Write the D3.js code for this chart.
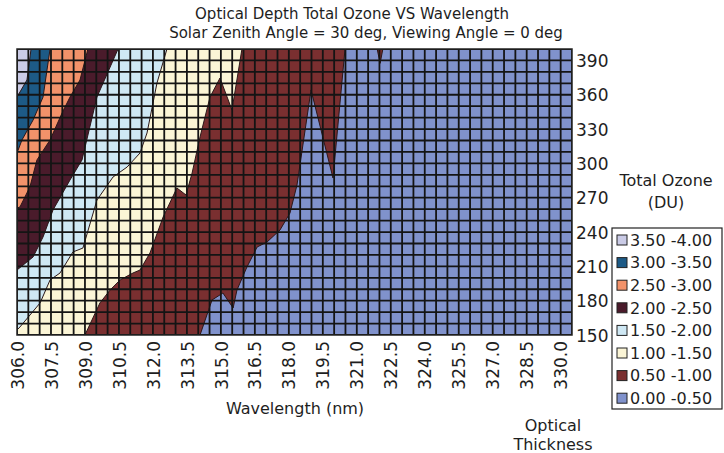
<!DOCTYPE html>
<html>
<head>
<meta charset="utf-8">
<script src="https://cdn.jsdelivr.net/npm/d3@7"></script>
<style>
  body { margin: 0; background: #fff; }
  text { font-family: "DejaVu Sans", "Noto Sans", sans-serif; fill: #1e1e1e; }
</style>
</head>
<body>
<svg id="chart" width="724" height="453"></svg>
<script>
// Axis tick labels
const xTickLabels = ["306.0","307.5","309.0","310.5","312.0","313.5","315.0","316.5","318.0",
                     "319.5","321.0","322.5","324.0","325.5","327.0","328.5","330.0"];
const yTickLabels = [150, 180, 210, 240, 270, 300, 330, 360, 390];

// Optical thickness classes (lower bound, legend text, fill colour)
const bandLevels = [0.0, 0.5, 1.0, 1.5, 2.0, 2.5, 3.0, 3.5];
const bandLabels = ["0.00 -0.50","0.50 -1.00","1.00 -1.50","1.50 -2.00",
                    "2.00 -2.50","2.50 -3.00","3.00 -3.50","3.50 -4.00"];
const bandColors = ["#8092cc","#7a2f30","#fbf5d6","#cfe8f4",
                    "#4a1b2b","#f2926a","#1d5a86","#cacbe6"];

// Contour edges [wavelength nm, total ozone DU]: optical thickness exceeds the level to the left
const edge050 = [[320.48,400],[319.95,287.2],[318.98,364.2],[318.36,281.1],[318.05,256.6],
                 [317.61,241.8],[317.04,231.3],[316.60,226.9],[316.15,209.4],[315.71,189.3],
                 [315.54,173.6],[315.09,186.7],[314.61,180.6],[314.08,150]];
const spike050 = [[321.90,400],[322.03,387.5],[322.15,400]];
const edge100 = [[315.93,400],[315.49,346.7],[314.96,374.6],[314.52,358.0],[314.08,323.1],
                 [313.73,291.6],[313.46,272.4],[313.06,278.5],[312.45,253.1],[311.87,221.7],
                 [311.43,206.8],[311.12,204.2],[310.55,198.1],[310.11,189.3],[309.66,178.0],
                 [309.00,150]];
const edge150 = [[312.62,400],[312.18,370.3],[311.74,326.6],[311.43,309.1],[310.86,296.8],
                 [310.24,288.1],[309.53,268.0],[308.91,226.0],[308.47,222.6],[307.90,204.2],
                 [307.46,198.1],[307.02,178.0],[306.13,157.0],[306.0,154.4]];
const edge200 = [[310.46,400],[309.53,358.0],[308.87,303.0],[308.34,285.5],[307.59,259.3],
                 [307.15,235.7],[306.71,218.2],[306.0,206.8]];
const edge250 = [[309.13,400],[308.78,372.9],[308.34,358.0],[307.99,344.1],[307.46,320.5],
                 [306.88,303.0],[306.57,279.4],[306.13,261.9],[306.0,261.0]];
const edge300 = [[307.46,400],[307.15,358.0],[306.71,337.9],[306.22,320.5],[306.0,309.1]];
const edge350 = [[306.62,400],[306.44,372.9],[306.0,358.0]];

// Data grid of the surface
const gridWavelengths = d3.range(306, 330.51, 0.5);
const gridOzone = d3.range(150, 401, 10);

const svg = d3.select("#chart");
const x = d3.scaleLinear().domain([306, 330.5]).range([17, 572]);
const y = d3.scaleLinear().domain([150, 400]).range([335, 49]);

// Close each edge against the left side of the plot
const closeLeft = pts => [[306, 400], ...pts, [306, pts[pts.length - 1][1]]];
const line = d3.line().x(d => x(d[0])).y(d => y(d[1]));

const bands = [
  { level: 0.5, rings: [closeLeft(edge050), spike050] },
  { level: 1.0, rings: [closeLeft(edge100)] },
  { level: 1.5, rings: [closeLeft(edge150)] },
  { level: 2.0, rings: [closeLeft(edge200)] },
  { level: 2.5, rings: [closeLeft(edge250)] },
  { level: 3.0, rings: [closeLeft(edge300)] },
  { level: 3.5, rings: [closeLeft(edge350)] }
];
const colorOf = lvl => bandColors[bandLevels.indexOf(lvl)];

svg.append("defs").append("clipPath").attr("id", "plotClip")
  .append("rect").attr("x", x(306)).attr("y", y(400))
  .attr("width", x(330.5) - x(306)).attr("height", y(150) - y(400));

const plot = svg.append("g").attr("clip-path", "url(#plotClip)");

plot.append("rect")
  .attr("x", x(306)).attr("y", y(400))
  .attr("width", x(330.5) - x(306)).attr("height", y(150) - y(400))
  .attr("fill", colorOf(0.0));

bands.forEach(b => {
  b.rings.forEach(r => {
    plot.append("path")
      .attr("d", line(r) + "Z")
      .attr("fill", colorOf(b.level))
      .attr("stroke", "#2a1618")
      .attr("stroke-width", 1)
      .attr("stroke-linejoin", "round");
  });
});

// Surface grid
plot.append("g").selectAll("line").data(gridWavelengths).join("line")
  .attr("x1", d => x(d)).attr("x2", d => x(d))
  .attr("y1", y(400)).attr("y2", y(150))
  .attr("stroke", "#141414").attr("stroke-width", 1.8);
plot.append("g").selectAll("line").data(gridOzone).join("line")
  .attr("y1", d => y(d)).attr("y2", d => y(d))
  .attr("x1", x(306)).attr("x2", x(330.5))
  .attr("stroke", "#141414").attr("stroke-width", 1.8);

svg.append("rect")
  .attr("x", x(306)).attr("y", y(400))
  .attr("width", x(330.5) - x(306)).attr("height", y(150) - y(400))
  .attr("fill", "none").attr("stroke", "#222").attr("stroke-width", 1.5);

// Axes
const xAxis = svg.append("g").attr("transform", `translate(0,${y(150)})`)
  .call(d3.axisBottom(x).tickValues(xTickLabels.map(Number)).tickFormat((d, i) => xTickLabels[i]).tickSize(0));
xAxis.select(".domain").remove();
xAxis.selectAll("text")
  .attr("transform", "rotate(-90)")
  .attr("x", -6).attr("y", 0).attr("dy", "0.36em")
  .style("text-anchor", "end")
  .style("font-size", "17px")
  .style("font-family", "DejaVu Sans, sans-serif");

const yAxis = svg.append("g").attr("transform", `translate(${x(330.5)},0)`)
  .call(d3.axisRight(y).tickValues(yTickLabels).tickSize(0));
yAxis.select(".domain").remove();
yAxis.selectAll("text")
  .attr("x", 4).attr("dy", "0.36em")
  .style("font-size", "17px")
  .style("font-family", "DejaVu Sans, sans-serif");

// Titles
svg.append("text").attr("x", 352).attr("y", 19).attr("text-anchor", "middle")
  .style("font-size", "15px").text("Optical Depth Total Ozone VS Wavelength");
svg.append("text").attr("x", 366).attr("y", 38).attr("text-anchor", "middle")
  .style("font-size", "15px").text("Solar Zenith Angle = 30 deg, Viewing Angle = 0 deg");

svg.append("text").attr("x", 295).attr("y", 414).attr("text-anchor", "middle")
  .style("font-size", "16px").text("Wavelength (nm)");
svg.append("text").attr("x", 553).attr("y", 431).attr("text-anchor", "middle")
  .style("font-size", "16px").text("Optical");
svg.append("text").attr("x", 553).attr("y", 450).attr("text-anchor", "middle")
  .style("font-size", "16px").text("Thickness");

svg.append("text").attr("x", 666).attr("y", 186).attr("text-anchor", "middle")
  .style("font-size", "16px").text("Total Ozone");
svg.append("text").attr("x", 666).attr("y", 208).attr("text-anchor", "middle")
  .style("font-size", "16px").text("(DU)");

// Legend
const legend = svg.append("g");
legend.append("rect").attr("x", 612).attr("y", 228).attr("width", 110).attr("height", 181)
  .attr("fill", "#fff").attr("stroke", "#222").attr("stroke-width", 1.2);
const order = d3.range(bandLevels.length).reverse();
const rows = legend.selectAll("g.row").data(order).join("g")
  .attr("transform", (d, i) => `translate(0,${240 + i * 22.6})`);
rows.append("rect").attr("x", 617).attr("y", -5).attr("width", 10).attr("height", 10)
  .attr("fill", d => bandColors[d]).attr("stroke", "#222").attr("stroke-width", 1);
rows.append("text").attr("x", 630).attr("dy", "0.36em")
  .style("font-size", "16px").text(d => bandLabels[d]);
</script>
</body>
</html>
